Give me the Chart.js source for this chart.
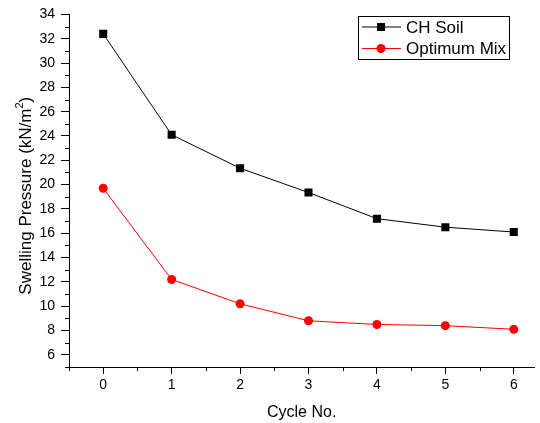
<!DOCTYPE html>
<html>
<head>
<meta charset="utf-8">
<script src="https://cdn.jsdelivr.net/npm/chart.js@4.4.0/dist/chart.umd.min.js"></script>
<style>
  html, body { margin: 0; padding: 0; background: #fff; }
  #wrap { width: 540px; height: 423px; }
</style>
</head>
<body>
<div id="wrap"><canvas id="chart"></canvas></div>
<script>
const cycles = [0, 1, 2, 3, 4, 5, 6];
const chSoil = [32.4, 24.1, 21.35, 19.35, 17.2, 16.5, 16.1];
const optimumMix = [19.7, 12.2, 10.2, 8.8, 8.5, 8.4, 8.1];
const xTicks = [0, 1, 2, 3, 4, 5, 6];
const yTicks = [6, 8, 10, 12, 14, 16, 18, 20, 22, 24, 26, 28, 30, 32, 34];

const FONT = "'Liberation Sans', Arial, sans-serif";

// origin style minor ticks (half steps) drawn by hand
const minorTicks = {
  id: "minorTicks",
  afterDraw(chart) {
    const ctx = chart.ctx;
    const x = chart.scales.x, y = chart.scales.y;
    ctx.save();
    ctx.strokeStyle = "#000";
    ctx.lineWidth = 1;
    ctx.beginPath();
    for (let v = -0.5; v <= x.max; v += 1) {
      const px = Math.round(x.getPixelForValue(v)) + 0.5;
      ctx.moveTo(px, y.bottom);
      ctx.lineTo(px, y.bottom + 4);
    }
    for (let v = 5; v <= y.max; v += 2) {
      const py = Math.round(y.getPixelForValue(v)) + 0.5;
      ctx.moveTo(x.left, py);
      ctx.lineTo(x.left - 4, py);
    }
    ctx.stroke();
    ctx.restore();
  },
};

// y title with a real superscript
const yTitle = {
  id: "yTitle",
  afterDraw(chart) {
    const ctx = chart.ctx;
    const a = chart.chartArea;
    const main = "Swelling Pressure (kN/m";
    ctx.save();
    ctx.fillStyle = "#000";
    ctx.font = "17px " + FONT;
    const w1 = ctx.measureText(main).width;
    const w3 = ctx.measureText(")").width;
    ctx.font = "11px " + FONT;
    const w2 = ctx.measureText("2").width;
    const total = w1 + w2 + w3;
    ctx.translate(31, (a.top + a.bottom) / 2 + 5);
    ctx.rotate(-Math.PI / 2);
    ctx.textBaseline = "alphabetic";
    let cx = -total / 2;
    ctx.font = "17px " + FONT;
    ctx.fillText(main, cx, 0);
    cx += w1;
    ctx.font = "11px " + FONT;
    ctx.fillText("2", cx, -8);
    cx += w2;
    ctx.font = "17px " + FONT;
    ctx.fillText(")", cx, 0);
    ctx.restore();
  },
};

// legend box inside the plot, top right
const boxLegend = {
  id: "boxLegend",
  afterDraw(chart) {
    const ctx = chart.ctx;
    const left = 358, top = 16, w = 151, h = 43;
    ctx.save();
    ctx.fillStyle = "#fff";
    ctx.fillRect(left, top, w, h);
    ctx.strokeStyle = "#000";
    ctx.lineWidth = 1;
    ctx.strokeRect(left + 0.5, top + 0.5, w, h);
    ctx.font = "17px " + FONT;
    ctx.textBaseline = "middle";
    chart.data.datasets.forEach((ds, i) => {
      const cy = top + 11 + i * 21.5;
      ctx.strokeStyle = ds.borderColor;
      ctx.beginPath();
      ctx.moveTo(left + 4, cy);
      ctx.lineTo(left + 43, cy);
      ctx.stroke();
      ctx.fillStyle = ds.pointBackgroundColor;
      if (ds.pointStyle === "rect") {
        ctx.fillRect(left + 19, cy - 4, 8, 8);
      } else {
        ctx.beginPath();
        ctx.arc(left + 23, cy, 4.5, 0, Math.PI * 2);
        ctx.fill();
      }
      ctx.fillStyle = "#000";
      ctx.fillText(ds.label, left + 48, cy + 1);
    });
    ctx.restore();
  },
};

new Chart(document.getElementById("chart"), {
  type: "line",
  data: {
    labels: cycles,
    datasets: [
      {
        label: "CH Soil",
        data: cycles.map((c, i) => ({ x: c, y: chSoil[i] })),
        borderColor: "#000",
        borderWidth: 1,
        pointStyle: "rect",
        pointRadius: 5.7,
        pointBackgroundColor: "#000",
        pointBorderWidth: 0,
        tension: 0,
      },
      {
        label: "Optimum Mix",
        data: cycles.map((c, i) => ({ x: c, y: optimumMix[i] })),
        borderColor: "#ff0000",
        borderWidth: 1,
        pointStyle: "circle",
        pointRadius: 4.5,
        pointBackgroundColor: "#ff0000",
        pointBorderWidth: 0,
        tension: 0,
      },
    ],
  },
  options: {
    responsive: true,
    maintainAspectRatio: false,
    animation: false,
    layout: { padding: { top: 14, right: 0, left: 0, bottom: 0 } },
    plugins: { legend: { display: false }, tooltip: { enabled: false } },
    scales: {
      x: {
        type: "linear",
        min: -0.5,
        max: 6.3,
        afterBuildTicks: (s) => { s.ticks = xTicks.map((v) => ({ value: v })); },
        afterFit: (s) => { s.height = 56; },
        grid: { drawOnChartArea: false, drawTicks: true, tickLength: 7, color: "#000" },
        border: { display: true, color: "#000", width: 1 },
        ticks: { color: "#000", padding: 3, font: { family: FONT, size: 14 }, maxRotation: 0 },
        title: {
          display: true,
          text: "Cycle No.",
          color: "#000",
          font: { family: FONT, size: 16 },
          padding: { top: 0, bottom: 1 },
        },
      },
      y: {
        type: "linear",
        min: 5,
        max: 34,
        afterBuildTicks: (s) => { s.ticks = yTicks.map((v) => ({ value: v })); },
        afterFit: (s) => { s.width = 69; },
        grid: { drawOnChartArea: false, drawTicks: true, tickLength: 8, color: "#000" },
        border: { display: true, color: "#000", width: 1 },
        ticks: { color: "#000", padding: 6, font: { family: FONT, size: 14 } },
        title: { display: false },
      },
    },
  },
  plugins: [minorTicks, yTitle, boxLegend],
});
</script>
</body>
</html>
